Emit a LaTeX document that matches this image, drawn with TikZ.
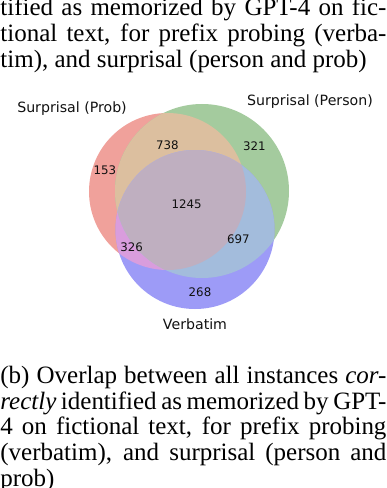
\documentclass[tikz,border=0pt]{standalone}
\usepackage{fontspec}
\setmainfont{Liberation Serif}
\newfontfamily\vennfont{DejaVu Sans}
\usetikzlibrary{positioning}
\definecolor{prob}{HTML}{F0A19B}
\definecolor{person}{HTML}{A4CB9E}
\definecolor{verb}{HTML}{9D9BF7}
\definecolor{probperson}{HTML}{DCBF9F}
\definecolor{probverb}{HTML}{D99DDD}
\definecolor{personverb}{HTML}{A3BCDC}
\definecolor{allthree}{HTML}{BFAFC0}
\definecolor{ink}{HTML}{111111}

\tikzset{
  setlabel/.style={inner sep=0pt,anchor=base,color=ink,font=\vennfont\fontsize{6.6}{7.9}\selectfont},
  count/.style={inner sep=0pt,color=ink,font=\vennfont\fontsize{5.5}{6.6}\selectfont},
  captext/.style={inner sep=0pt,anchor=base west,text width=180pt,align=justify,
                  font=\fontsize{11.65}{12}\selectfont}
}

\begin{document}
\begin{tikzpicture}[x=0.4663pt,y=-0.4663pt]
  \useasboundingbox (0,0) rectangle (386,488);
  \coordinate (cprob) at (167.5,191.5);
  \coordinate (cperson) at (202,191);
  \coordinate (cverb) at (195,229.5);

  % single sets
  \fill[prob] (cprob) circle (78.5);
  \fill[person] (cperson) circle (87);
  \fill[verb] (cverb) circle (79.5);
  % pairwise overlaps
  \begin{scope}
    \clip (cprob) circle (78.5);
    \fill[probperson] (cperson) circle (87);
    \fill[probverb] (cverb) circle (79.5);
  \end{scope}
  \begin{scope}
    \clip (cperson) circle (87);
    \fill[personverb] (cverb) circle (79.5);
    \clip (cprob) circle (78.5);
    \fill[allthree] (cverb) circle (79.5);
  \end{scope}

  \node[setlabel] (lprob) at (72,112.5) {Surprisal (Prob)};
  \node[setlabel] (lperson) at (310,105) {Surprisal (Person)};
  \node[setlabel] (lverb) at (195,329) {Verbatim};

  \foreach \p/\v in {(105,170)/153,(167.3,145.7)/738,(254.3,146)/321,(186.7,204.3)/1245,
                     (131.7,247.7)/326,(238.3,239.3)/697,(200,292.7)/268}{
    \node[count] (n\v) at \p {\v};
  }

  \node[captext] (toptext) at (0,15.7)
       {tified as memorized by GPT-4 on fic-\linebreak
        tional text, for prefix probing (verba-\linebreak
        tim), and surprisal (person and prob)};
  \node[captext] (caption) at (0,383.3)
       {(b) Overlap between all instances \emph{cor-}\linebreak
        \emph{rectly} identified as memorized by GPT-\linebreak
        4 on fictional text, for prefix probing\linebreak
        (verbatim), and surprisal (person and\linebreak
        prob)};
\end{tikzpicture}
\end{document}
